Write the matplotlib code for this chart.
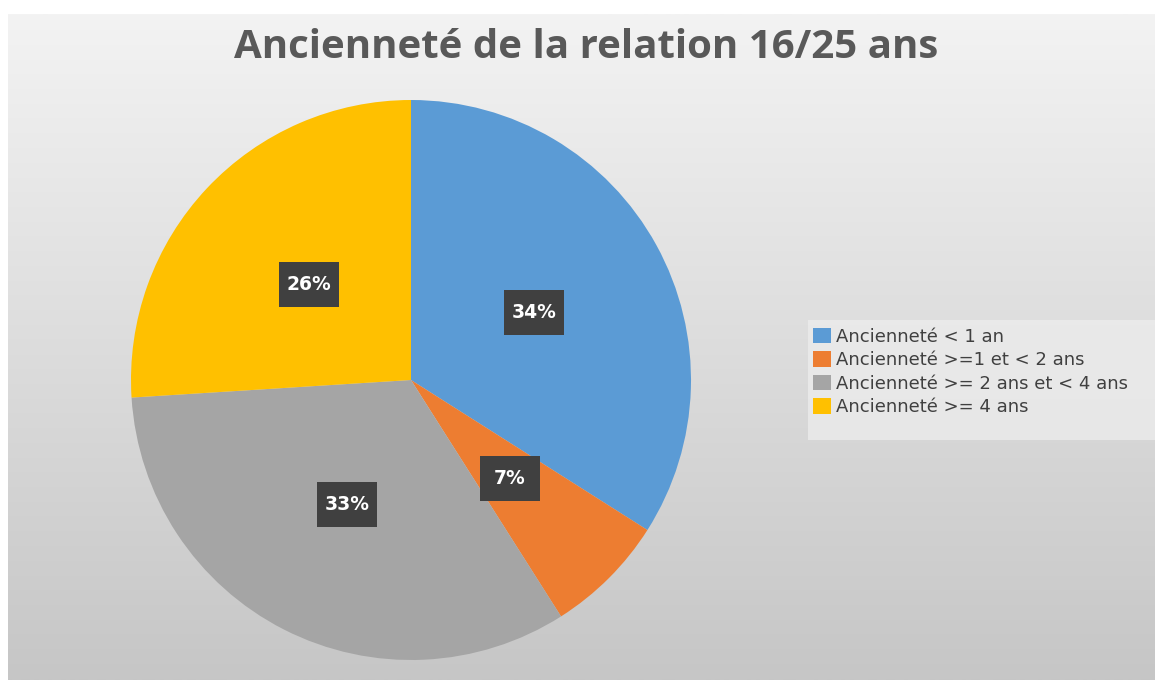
import matplotlib.pyplot as plt
import numpy as np
from matplotlib.patches import Patch, Rectangle
from matplotlib.colors import LinearSegmentedColormap

categories = ["Ancienneté < 1 an", "Ancienneté >=1 et < 2 ans",
              "Ancienneté >= 2 ans et < 4 ans", "Ancienneté >= 4 ans"]
values = [34, 7, 33, 26]
colors = ["#5b9bd5", "#ed7d31", "#a5a5a5", "#ffc000"]

W, H = 1155, 680
fig = plt.figure(figsize=(W / 100, H / 100), dpi=100, facecolor="white")

# gradient background panel
bg = fig.add_axes([8 / W, 0, 1 - 8 / W, (H - 14) / H])
grad = np.linspace(0, 1, 256).reshape(-1, 1)
bg.imshow(grad, aspect="auto", extent=[0, 1, 0, 1], origin="upper",
          cmap=LinearSegmentedColormap.from_list("g", ["#f3f3f3", "#c6c6c6"]))
bg.set_xlim(0, 1)
bg.set_ylim(0, 1)
bg.axis("off")

# lighter band behind legend
fig.patches.append(Rectangle((808 / W, 1 - 440 / H), 1 - 808 / W, 120 / H,
                             transform=fig.transFigure, facecolor="#ececec",
                             edgecolor="none", alpha=0.8, zorder=1))

fig.text(586 / W, 1 - 58 / H, "Ancienneté de la relation 16/25 ans",
         ha="center", va="baseline", fontsize=29, fontweight="bold",
         color="#595959", family="Open Sans")

cx, cy, r = 411, 380, 280
ax = fig.add_axes([(cx - r) / W, (H - cy - r) / H, 2 * r / W, 2 * r / H])
wedges, texts, autotexts = ax.pie(values, colors=colors, startangle=90, counterclock=False,
                                  autopct="%d%%", pctdistance=0.5, radius=1,
                                  textprops=dict(color="white", fontsize=13.5, fontweight="bold",
                                                 family="DejaVu Sans", zorder=5))
# dark label boxes (60x45 px)
bw, bh = 60 / r, 45 / r
for t in autotexts:
    x, y = t.get_position()
    ax.add_patch(Rectangle((x - bw / 2, y - bh / 2), bw, bh, facecolor="#404040",
                           edgecolor="none", zorder=4))
ax.set_xlim(-1, 1)
ax.set_ylim(-1, 1)
ax.axis("off")

handles = [Patch(facecolor=c, edgecolor="none") for c in colors]
fig.legend(handles, categories, loc="center left", bbox_to_anchor=(813 / W, 1 - 372 / H),
           frameon=False, handlelength=1.0, handleheight=0.95,
           handletextpad=0.25, labelspacing=0.3, borderaxespad=0, borderpad=0,
           prop=dict(family="DejaVu Sans", size=13), labelcolor="#404040")

fig.savefig("out.png", dpi=100)
